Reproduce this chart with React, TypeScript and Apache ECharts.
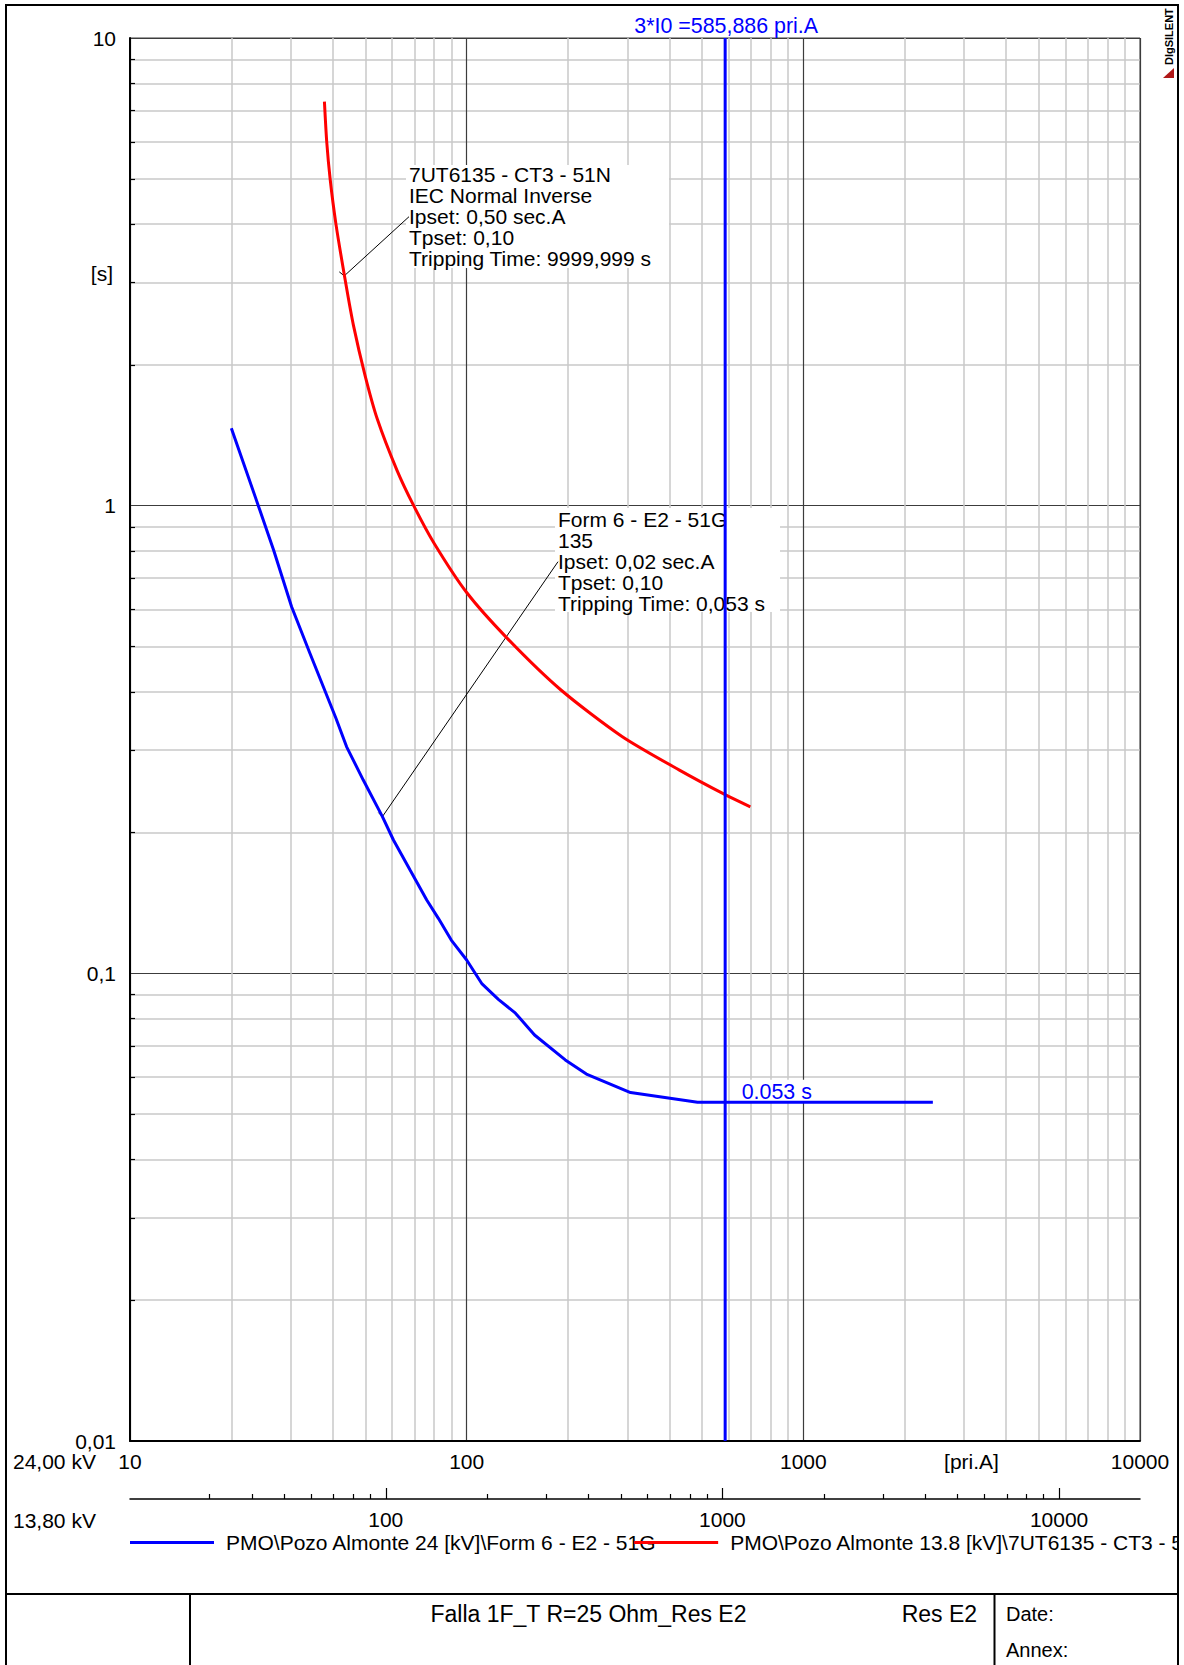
import React, { useEffect, useRef } from "react";
import * as echarts from "echarts";

const FONT = "'Liberation Sans', Arial, Helvetica, sans-serif";
const F_NOTE = `21px ${FONT}`;
const F_LABEL = `21.4px ${FONT}`;
const F21 = `21px ${FONT}`;

const X_MIN = 10;
const X_MAX = 10000;
const Y_MIN = 0.01;
const Y_MAX = 10;
const KV_MAIN = 24;
const KV_SECOND = 13.8;

const X_MAJOR = [10, 100, 1000, 10000];
const X_MINOR = [20, 30, 40, 50, 60, 70, 80, 90, 200, 300, 400, 500, 600, 700, 800, 900, 2000, 3000, 4000, 5000, 6000, 7000, 8000, 9000];
const Y_MAJOR = [0.01, 0.1, 1, 10];
const Y_MAJOR_LABELS = ["0,01", "0,1", "1", "10"];
const Y_MINOR = [0.02, 0.03, 0.04, 0.05, 0.06, 0.07, 0.08, 0.09, 0.2, 0.3, 0.4, 0.5, 0.6, 0.7, 0.8, 0.9, 2, 3, 4, 5, 6, 7, 8, 9];
const X2_MAJOR = [100, 1000, 10000];
const X2_MINOR = [30, 40, 50, 60, 70, 80, 90, 200, 300, 400, 500, 600, 700, 800, 900, 2000, 3000, 4000, 5000, 6000, 7000, 8000, 9000];

const BLUE_NAME = "PMO\\Pozo Almonte 24 [kV]\\Form 6 - E2 - 51G";
const RED_NAME = "PMO\\Pozo Almonte 13.8 [kV]\\7UT6135 - CT3 - 51N";

// Form 6 - E2 - 51G (pri.A at 24 kV, seconds)
const BLUE_CURRENT = [20.0, 24.05, 26.7, 30.2, 34.25, 40.9, 44.0, 49.3, 56.2, 60.6, 67.9, 76.1, 82.4, 90, 100, 111.1, 124.2, 139.6, 159.1, 196.3, 226.8, 306.7, 485, 2425];
const BLUE_TIME = [1.464, 1.0, 0.804, 0.608, 0.483, 0.351, 0.305, 0.259, 0.2163, 0.1928, 0.1663, 0.1435, 0.1311, 0.1178, 0.1068, 0.0949, 0.088, 0.0822, 0.0738, 0.0653, 0.0609, 0.0556, 0.053, 0.053];

// 7UT6135 - CT3 - 51N
const RED_CURRENT = [37.8, 38.4, 39.3, 40.9, 43.7, 46.1, 49.9, 54.3, 62.1, 69.6, 80.1, 100, 131.8, 190.2, 289.3, 428.5, 585.9, 696];
const RED_TIME = [7.31, 6.0, 5.0, 4.0, 3.0, 2.43, 1.9, 1.53, 1.19, 1.0, 0.83, 0.652, 0.521, 0.404, 0.321, 0.272, 0.241, 0.227];

const FAULT_CURRENT = 585.886;
const FAULT_LABEL = "3*I0 =585,886 pri.A";
const TRIP_TIME = 0.053;
const TRIP_LABEL = "0.053 s";

const RED_NOTE_LINES = ["7UT6135 - CT3 - 51N", "IEC Normal Inverse", "Ipset: 0,50 sec.A", "Tpset: 0,10", "Tripping Time: 9999,999 s"];
const BLUE_NOTE_LINES = ["Form 6 - E2 - 51G", "135", "Ipset: 0,02 sec.A", "Tpset: 0,10", "Tripping Time: 0,053 s"];
const RED_NOTE_ANCHOR = [43.3, 3.1];
const BLUE_NOTE_ANCHOR = [56.2, 0.2163];

const BLUE = "#0000ff";
const RED = "#ff0000";
const MINOR_GRID = "#c8c8c8";
const MAJOR_GRID = "#3c3c3c";

const zip = (a: number[], b: number[]) => a.map((v, i) => [v, b[i]]);
const fmtInt = (v: number) => String(Math.round(v));
const fmtY = (v: number) => {
  const i = Y_MAJOR.findIndex((m) => Math.abs(Math.log10(m) - Math.log10(v)) < 1e-6);
  return i >= 0 ? Y_MAJOR_LABELS[i] : "";
};

const textBase = { fontFamily: FONT, fontSize: 21, color: "#000" };

function buildOption(): any {
  const x2Min = (X_MIN * KV_MAIN) / KV_SECOND;
  const x2Max = (X_MAX * KV_MAIN) / KV_SECOND;
  return {
    animation: false,
    backgroundColor: "#ffffff",
    grid: [
      { left: 130, top: 38, width: 1010, height: 1403, show: true, borderColor: MAJOR_GRID, borderWidth: 1, backgroundColor: "transparent", containLabel: false, outerBoundsMode: "none" },
      { left: 130, top: 1498, width: 1010, height: 1, show: false, containLabel: false, outerBoundsMode: "none" },
    ],
    xAxis: [
      {
        gridIndex: 0, type: "log", logBase: 10, min: X_MIN, max: X_MAX, position: "bottom",
        axisLine: { show: true, onZero: false, lineStyle: { color: "#000", width: 2 } },
        axisTick: { show: false, customValues: X_MINOR },
        axisLabel: { show: false },
        splitLine: { show: true, lineStyle: { color: MINOR_GRID, width: 1.5 } },
        minorTick: { show: false }, minorSplitLine: { show: false },
      },
      {
        gridIndex: 0, type: "log", logBase: 10, min: X_MIN, max: X_MAX, position: "bottom",
        axisLine: { show: false },
        axisTick: { show: false, customValues: X_MAJOR },
        axisLabel: { show: true, customValues: X_MAJOR, formatter: fmtInt, margin: 10, ...textBase },
        splitLine: { show: true, lineStyle: { color: MAJOR_GRID, width: 1.2 } },
      },
      {
        gridIndex: 1, type: "log", logBase: 10, min: x2Min, max: x2Max, position: "bottom",
        axisLine: { show: true, onZero: false, lineStyle: { color: "#000", width: 1.5 } },
        axisTick: { show: true, inside: true, length: 5, customValues: X2_MINOR, lineStyle: { color: "#000", width: 1.2 } },
        axisLabel: { show: false },
        splitLine: { show: false },
      },
      {
        gridIndex: 1, type: "log", logBase: 10, min: x2Min, max: x2Max, position: "bottom",
        axisLine: { show: false },
        axisTick: { show: true, inside: true, length: 11, customValues: X2_MAJOR, lineStyle: { color: "#000", width: 1.2 } },
        axisLabel: { show: true, customValues: X2_MAJOR, formatter: fmtInt, margin: 10, ...textBase },
        splitLine: { show: false },
      },
    ],
    yAxis: [
      {
        gridIndex: 0, type: "log", logBase: 10, min: Y_MIN, max: Y_MAX, position: "left",
        axisLine: { show: false },
        axisTick: { show: true, inside: true, length: 5, customValues: Y_MINOR, lineStyle: { color: "#000", width: 1.2 } },
        axisLabel: { show: false },
        splitLine: { show: true, lineStyle: { color: MINOR_GRID, width: 1.5 } },
      },
      {
        gridIndex: 0, type: "log", logBase: 10, min: Y_MIN, max: Y_MAX, position: "left",
        axisLine: { show: true, onZero: false, lineStyle: { color: "#000", width: 2 } },
        axisTick: { show: false, customValues: Y_MAJOR },
        axisLabel: { show: true, customValues: Y_MAJOR, formatter: fmtY, margin: 14, ...textBase },
        splitLine: { show: true, lineStyle: { color: MAJOR_GRID, width: 1.2 } },
      },
      { gridIndex: 1, type: "value", min: 0, max: 1, show: false },
    ],
    legend: {
      show: true,
      data: [BLUE_NAME, RED_NAME],
      left: 130,
      top: 1532,
      width: 1600,
      orient: "horizontal",
      padding: 0,
      itemGap: -22.5,
      itemWidth: 84,
      itemHeight: 3,
      icon: "rect",
      selectedMode: false,
      textStyle: { fontFamily: FONT, fontSize: 21, color: "#000", padding: [0, 0, 0, 7] },
    },
    series: [
      {
        name: BLUE_NAME, type: "line", xAxisIndex: 0, yAxisIndex: 0,
        data: zip(BLUE_CURRENT, BLUE_TIME),
        symbol: "none", showSymbol: false, smooth: false, z: 3,
        lineStyle: { color: BLUE, width: 3 }, itemStyle: { color: BLUE },
      },
      {
        name: RED_NAME, type: "line", xAxisIndex: 0, yAxisIndex: 0,
        data: zip(RED_CURRENT, RED_TIME),
        symbol: "none", showSymbol: false, smooth: 0.25, z: 3,
        lineStyle: { color: RED, width: 3 }, itemStyle: { color: RED },
      },
      {
        name: "3*I0", type: "line", xAxisIndex: 0, yAxisIndex: 0,
        data: [[FAULT_CURRENT, Y_MIN], [FAULT_CURRENT, Y_MAX]],
        symbol: "none", showSymbol: false, z: 3,
        lineStyle: { color: BLUE, width: 3 }, itemStyle: { color: BLUE },
      },
    ],
  };
}

function buildGraphic(chart: any): any[] {
  const toPx = (p: number[]) => chart.convertToPixel({ seriesIndex: 0 }, p) as number[];
  const ra = toPx(RED_NOTE_ANCHOR);
  const ba = toPx(BLUE_NOTE_ANCHOR);
  const faultTop = toPx([FAULT_CURRENT, Y_MAX]);
  const tripPt = toPx([FAULT_CURRENT, TRIP_TIME]);
  const g: any[] = [];
  const txt = (x: number, y: number, text: string, extra: any = {}, z = 1) => ({
    type: "text", x, y, z, silent: true,
    style: { text, font: F21, fill: "#000", align: "left", verticalAlign: "middle", ...extra },
  });
  // annotation: red relay
  g.push({ type: "rect", z: 1, silent: true, shape: { x: 406, y: 165, width: 263, height: 103 }, style: { fill: "#fff" } });
  g.push(txt(409, 164.2, RED_NOTE_LINES.join("\n"), { verticalAlign: "top", lineHeight: 21, font: F_NOTE }));
  g.push({ type: "line", z: 1, silent: true, shape: { x1: 409, y1: 216.7, x2: ra[0], y2: ra[1] }, style: { stroke: "#000", lineWidth: 1 } });
  g.push({ type: "line", z: 1, silent: true, shape: { x1: ra[0] - 5, y1: ra[1] - 4, x2: ra[0], y2: ra[1] }, style: { stroke: "#000", lineWidth: 1 } });
  // annotation: blue relay
  g.push({ type: "rect", z: 1, silent: true, shape: { x: 555, y: 508, width: 225, height: 104 }, style: { fill: "#fff" } });
  g.push(txt(558, 508.5, BLUE_NOTE_LINES.join("\n"), { verticalAlign: "top", lineHeight: 21, font: F_NOTE }));
  g.push({ type: "line", z: 1, silent: true, shape: { x1: 558, y1: 561.7, x2: ba[0], y2: ba[1] }, style: { stroke: "#000", lineWidth: 1 } });
  g.push({ type: "line", z: 1, silent: true, shape: { x1: ba[0] - 4, y1: ba[1] - 4, x2: ba[0], y2: ba[1] }, style: { stroke: "#000", lineWidth: 1 } });
  // fault current title
  g.push(txt(faultTop[0] + 1, 26, FAULT_LABEL, { align: "center", fill: BLUE, font: F_LABEL }));
  // trip time label
  g.push({ type: "rect", z: 1, silent: true, shape: { x: tripPt[0] + 11.5, y: tripPt[1] - 22.5, width: 77, height: 22 }, style: { fill: "#fff" } });
  g.push(txt(tripPt[0] + 16.5, tripPt[1] - 10.5, TRIP_LABEL, { fill: BLUE, font: F_LABEL }));
  // axis captions
  g.push(txt(113, 273, "[s]", { align: "right" }));
  g.push(txt(13, 1461.7, "24,00 kV"));
  g.push(txt(13, 1520, "13,80 kV"));
  g.push(txt(971.5, 1461.7, "[pri.A]", { align: "center" }));
  // logo
  g.push({
    type: "text", z: 10, silent: true, x: 1169, y: 65, rotation: Math.PI / 2,
    style: { text: "DIgSILENT", font: `bold 11px ${FONT}`, fill: "#000", align: "left", verticalAlign: "middle" },
  });
  g.push({ type: "polygon", z: 10, silent: true, shape: { points: [[1174, 68], [1174, 78], [1163, 78]] }, style: { fill: "#b01818" } });
  // right-side cover (clips legend overflow) and frame
  g.push({ type: "rect", z: 50, silent: true, shape: { x: 1179, y: 0, width: 20, height: 1700 }, style: { fill: "#fff" } });
  g.push({ type: "rect", z: 60, silent: true, shape: { x: 6, y: 5, width: 1172, height: 1720 }, style: { fill: "none", stroke: "#000", lineWidth: 2 } });
  g.push({ type: "line", z: 60, silent: true, shape: { x1: 6, y1: 1594, x2: 1178, y2: 1594 }, style: { stroke: "#000", lineWidth: 2 } });
  g.push({ type: "line", z: 60, silent: true, shape: { x1: 190, y1: 1594, x2: 190, y2: 1720 }, style: { stroke: "#000", lineWidth: 2 } });
  g.push({ type: "line", z: 60, silent: true, shape: { x1: 994.5, y1: 1594, x2: 994.5, y2: 1720 }, style: { stroke: "#000", lineWidth: 2 } });
  // title block text
  g.push(txt(430.5, 1613.5, "Falla 1F_T R=25 Ohm_Res E2", { font: `23px ${FONT}` }, 60));
  g.push(txt(901.7, 1613.5, "Res E2", { font: `23px ${FONT}` }, 60));
  g.push(txt(1006, 1614, "Date:", { font: `20px ${FONT}` }, 60));
  g.push(txt(1006, 1650, "Annex:", { font: `20px ${FONT}` }, 60));
  return g;
}

export default function App() {
  const ref = useRef<HTMLDivElement>(null);
  useEffect(() => {
    const el = ref.current;
    if (!el) return;
    const chart = echarts.init(el, undefined, { renderer: "svg" });
    chart.setOption(buildOption());
    chart.setOption({ graphic: buildGraphic(chart) });
    return () => chart.dispose();
  }, []);
  return (
    <div
      ref={ref}
      style={{ position: "absolute", left: 0, top: 0, width: 1184, height: 1665, background: "#fff", overflow: "hidden" }}
    />
  );
}
